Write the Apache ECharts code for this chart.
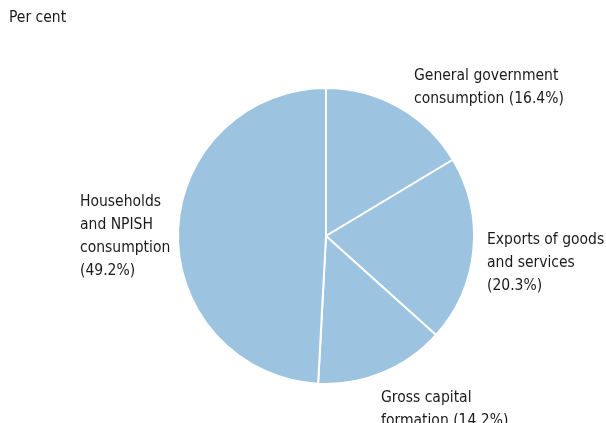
<!DOCTYPE html>
<html>
<head>
<meta charset="utf-8">
<script src="https://cdn.jsdelivr.net/npm/echarts@6/dist/echarts.min.js"></script>
<style>
html, body { margin: 0; padding: 0; background: #fff; }
#chart { width: 606px; height: 423px; }
</style>
</head>
<body>
<div id="chart"></div>
<script>
// Components of expenditure, share of total (per cent)
const categories = [
  'General government\nconsumption',
  'Exports of goods\nand services',
  'Gross capital\nformation',
  'Households\nand NPISH\nconsumption'
];
const shares = [16.4, 20.3, 14.2, 49.2];
const unitLabel = 'Per cent';

// Caption layout: where each slice's text block starts, and whether the
// percentage follows on the same line or on a new one
const labelAnchors = [
  { x: 414, y: 64, sep: ' ' },
  { x: 487, y: 228, sep: '\n' },
  { x: 381, y: 386, sep: ' ' },
  { x: 80, y: 190, sep: '\n' }
];

const FONT = '"DejaVu Sans Condensed", "Liberation Sans Narrow", Roboto, sans-serif';

const chart = echarts.init(document.getElementById('chart'), null, { renderer: 'canvas' });
chart.setOption({
  animation: false,
  backgroundColor: '#ffffff',
  title: {
    text: unitLabel,
    left: 9,
    top: 10,
    padding: 0,
    textStyle: { fontFamily: FONT, fontSize: 15.5, fontWeight: 'normal', color: '#1a1a1a' }
  },
  series: [{
    type: 'pie',
    center: [326, 236],
    radius: [0, 148],
    startAngle: 90,
    clockwise: true,
    silent: true,
    itemStyle: { color: '#9cc3e0', borderColor: '#ffffff', borderWidth: 2 },
    label: {
      show: true,
      position: 'outside',
      fontFamily: FONT,
      fontSize: 15.5,
      lineHeight: 23,
      color: '#1a1a1a',
      align: 'left',
      overflow: 'none',
      width: 300,
      formatter: p => p.name + labelAnchors[p.dataIndex].sep + '(' + p.value.toFixed(1) + '%)'
    },
    labelLine: { show: false },
    labelLayout: p => ({
      x: labelAnchors[p.dataIndex].x,
      y: labelAnchors[p.dataIndex].y,
      align: 'left',
      verticalAlign: 'top'
    }),
    data: categories.map((c, i) => ({ name: c, value: shares[i] }))
  }]
});
</script>
</body>
</html>
